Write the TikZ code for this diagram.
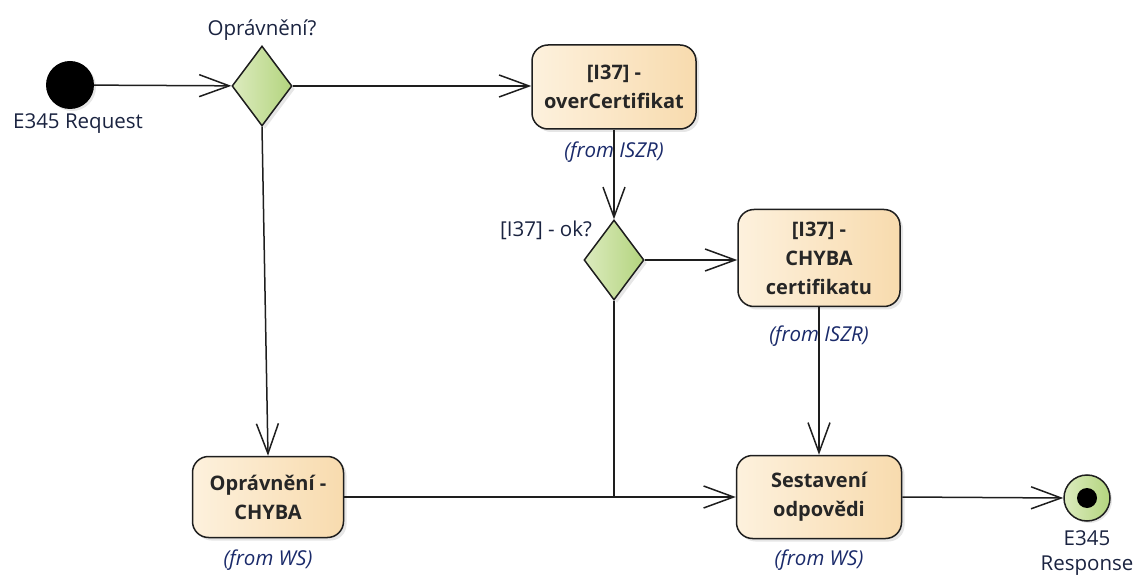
\documentclass[tikz,border=0pt]{standalone}
\usepackage{fontspec}
\setmainfont{Open Sans}
\usetikzlibrary{arrows.meta,shapes.geometric,shadows}
\definecolor{actL}{HTML}{FDF1DD}
\definecolor{actR}{HTML}{F8DBAE}
\definecolor{decL}{HTML}{DCEBBE}
\definecolor{decR}{HTML}{B3D47E}
\definecolor{edge}{HTML}{1E1E1E}
\definecolor{lbl}{HTML}{1A2340}
\definecolor{fromc}{HTML}{1A2A6A}
\tikzset{
  every node/.style={font=\fontsize{20.5}{24}\selectfont, text=lbl},
  action/.style={draw=edge, line width=1.5pt, rounded corners=16pt, left color=actL, right color=actR,
    minimum width=#1, align=center, font=\fontsize{20}{29}\selectfont\bfseries, text=black!85,
    drop shadow={opacity=0.2, shadow xshift=3pt, shadow yshift=-3pt}},
  decision/.style={diamond, draw=edge, line width=1.5pt, left color=decL, right color=decR,
    minimum width=60pt, minimum height=80pt, inner sep=0pt, aspect=0.75,
    drop shadow={opacity=0.2, shadow xshift=3pt, shadow yshift=-3pt}},
  flow/.style={draw=edge, line width=1.5pt, -{Straight Barb[length=30pt,width=22pt,line width=1.5pt]}},
  plain/.style={draw=edge, line width=1.5pt},
  fromlbl/.style={font=\fontsize{20.5}{24}\selectfont\itshape, text=fromc},
}
\begin{document}
\begin{tikzpicture}[x=1pt,y=-1pt]
\useasboundingbox (0,0) rectangle (1143,577);
% start
\node[circle, fill=black, minimum size=48pt, inner sep=0pt,
  drop shadow={opacity=0.2, shadow xshift=2pt, shadow yshift=-2pt}] (start) at (70,85) {};
\node (startlbl) at (78,124) {E345 Request};
% decision 1
\node[decision] (d1) at (262,86) {};
\node (d1lbl) at (262,30) {Oprávnění?};
% action 1
\node[action, minimum width=164pt, minimum height=84pt, inner sep=0pt] (a1) at (614,87) {[I37] -\\overCertifikat};
\node[fromlbl] (a1from) at (614,152) {(from ISZR)};
% decision 2
\node[decision] (d2) at (614,260) {};
\node (d2lbl) at (546,230) {[I37] - ok?};
% action 2
\node[action, minimum width=162pt, minimum height=97pt, inner sep=0pt] (a2) at (819,258) {[I37] -\\CHYBA\\certifikatu};
\node[fromlbl] (a2from) at (819,336) {(from ISZR)};
% action 3
\node[action, minimum width=151pt, minimum height=81pt, inner sep=0pt] (a3) at (268,497) {Oprávnění -\\CHYBA};
\node[fromlbl] (a3from) at (268,560) {(from WS)};
% action 4
\node[action, minimum width=165pt, minimum height=83pt, inner sep=0pt] (a4) at (819,497) {Sestavení\\odpovědi};
\node[fromlbl] (a4from) at (819,560) {(from WS)};
% end
\node[circle, draw=edge, line width=1.5pt, left color=decL, right color=decR, minimum size=46pt, inner sep=0pt,
  drop shadow={opacity=0.2, shadow xshift=2pt, shadow yshift=-2pt}] (end) at (1087,498) {};
\node[circle, fill=black, minimum size=20pt, inner sep=0pt] (endin) at (end) {};
\node (endlbl1) at (1087,538) {E345};
\node (endlbl2) at (1087,566) {Response};
\coordinate (join) at (614,497);
% connectors
\draw[flow] (start) -- (d1);
\draw[flow] (d1.east) -- (a1.west |- d1.east);
\draw[flow] (d1.south) -- (a3.north);
\draw[flow] (a1.south) -- (d2.north);
\draw[flow] (d2.east) -- (a2.west |- d2.east);
\draw[plain] (d2.south) -- (join);
\draw[flow] (a3.east) -- (a4.west);
\draw[flow] (a2.south) -- (a4.north);
\draw[flow] (a4.east) -- (end.west);
\end{tikzpicture}
\end{document}
